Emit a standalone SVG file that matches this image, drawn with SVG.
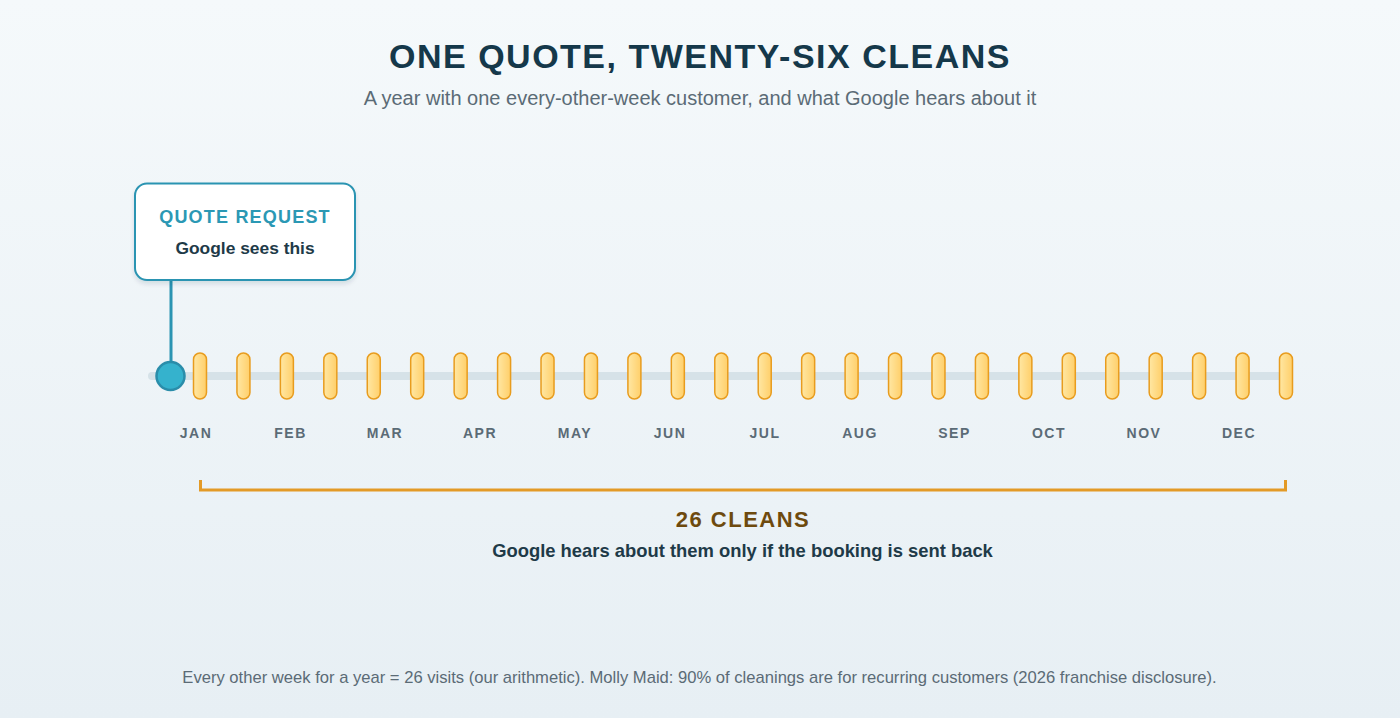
<svg xmlns="http://www.w3.org/2000/svg" width="1400" height="718" viewBox="0 0 1400 718">
<defs>
<linearGradient id="bg" x1="0" y1="0" x2="0" y2="1">
<stop offset="0" stop-color="#f5f9fb"/>
<stop offset="1" stop-color="#e7eff4"/>
</linearGradient>
<linearGradient id="pill" x1="0" y1="0" x2="1" y2="0">
<stop offset="0" stop-color="#ffe7a3"/>
<stop offset="1" stop-color="#ffcf6a"/>
</linearGradient>
<filter id="sh" x="-10%" y="-10%" width="120%" height="130%">
<feDropShadow dx="0" dy="3" stdDeviation="2" flood-color="#1e3a48" flood-opacity="0.12"/>
</filter>
<symbol id="p" overflow="visible"><rect x="-6.5" y="-23" width="13" height="46" rx="6.5" fill="url(#pill)" stroke="#e89c1e" stroke-width="1.5"/></symbol>
</defs>
<style>
text{font-family:"Liberation Sans",Arial,sans-serif}
.title{font-size:34px;font-weight:700;fill:#15384a;letter-spacing:1.5px}
.sub{font-size:20px;fill:#5b6b76}
.mon{font-size:14px;font-weight:700;fill:#5b6b76;letter-spacing:1.5px}
.foot{font-size:16.6px;fill:#5b6b76}
</style>
<rect width="1400" height="718" fill="url(#bg)"/>
<text class="title" x="700" y="68" text-anchor="middle">ONE QUOTE, TWENTY-SIX CLEANS</text>
<text class="sub" x="700" y="105" text-anchor="middle">A year with one every-other-week customer, and what Google hears about it</text>

<g id="track">
<line x1="152" y1="376" x2="1284" y2="376" stroke="#d6e2e8" stroke-width="8" stroke-linecap="round"/>
</g>

<g id="connectors">
<line x1="171" y1="280" x2="171" y2="364" stroke="#2b94b2" stroke-width="3"/>
</g>

<g id="quote-request">
<rect x="135" y="183.5" width="220" height="96.5" rx="12" fill="#ffffff" stroke="#2b94b2" stroke-width="2" filter="url(#sh)"/>
<text x="245" y="223" text-anchor="middle" font-size="18" font-weight="700" fill="#2b98b4" letter-spacing="1.2">QUOTE REQUEST</text>
<text x="245" y="254" text-anchor="middle" font-size="17.4" font-weight="700" fill="#1e3a48">Google sees this</text>
</g>

<g id="quote-dot">
<circle cx="170.5" cy="376" r="14" fill="#35b2cd" stroke="#2a8daa" stroke-width="2.5"/>
</g>

<g id="cleans">
<use href="#p" x="200" y="376"/>
<use href="#p" x="243.44" y="376"/>
<use href="#p" x="286.88" y="376"/>
<use href="#p" x="330.32" y="376"/>
<use href="#p" x="373.76" y="376"/>
<use href="#p" x="417.2" y="376"/>
<use href="#p" x="460.64" y="376"/>
<use href="#p" x="504.08" y="376"/>
<use href="#p" x="547.52" y="376"/>
<use href="#p" x="590.96" y="376"/>
<use href="#p" x="634.4" y="376"/>
<use href="#p" x="677.84" y="376"/>
<use href="#p" x="721.28" y="376"/>
<use href="#p" x="764.72" y="376"/>
<use href="#p" x="808.16" y="376"/>
<use href="#p" x="851.6" y="376"/>
<use href="#p" x="895.04" y="376"/>
<use href="#p" x="938.48" y="376"/>
<use href="#p" x="981.92" y="376"/>
<use href="#p" x="1025.36" y="376"/>
<use href="#p" x="1068.8" y="376"/>
<use href="#p" x="1112.24" y="376"/>
<use href="#p" x="1155.68" y="376"/>
<use href="#p" x="1199.12" y="376"/>
<use href="#p" x="1242.56" y="376"/>
<use href="#p" x="1286" y="376"/>
</g>

<g id="months" text-anchor="middle">
<text class="mon" x="196" y="438">JAN</text>
<text class="mon" x="290.5" y="438">FEB</text>
<text class="mon" x="385" y="438">MAR</text>
<text class="mon" x="480" y="438">APR</text>
<text class="mon" x="575" y="438">MAY</text>
<text class="mon" x="670" y="438">JUN</text>
<text class="mon" x="765" y="438">JUL</text>
<text class="mon" x="860" y="438">AUG</text>
<text class="mon" x="954.5" y="438">SEP</text>
<text class="mon" x="1049" y="438">OCT</text>
<text class="mon" x="1144" y="438">NOV</text>
<text class="mon" x="1239" y="438">DEC</text>
</g>

<g id="bracket">
<path d="M200.5 480 V490 H1285.5 V480" fill="none" stroke="#e39a26" stroke-width="3"/>
<text x="743" y="527" text-anchor="middle" font-size="22" font-weight="700" fill="#6e4a0e" letter-spacing="1.5">26 CLEANS</text>
<text x="742.5" y="557" text-anchor="middle" font-size="18.4" font-weight="700" fill="#1e3a48">Google hears about them only if the booking is sent back</text>
</g>

<text class="foot" x="699.5" y="683" text-anchor="middle">Every other week for a year = 26 visits (our arithmetic). Molly Maid: 90% of cleanings are for recurring customers (2026 franchise disclosure).</text>
</svg>
